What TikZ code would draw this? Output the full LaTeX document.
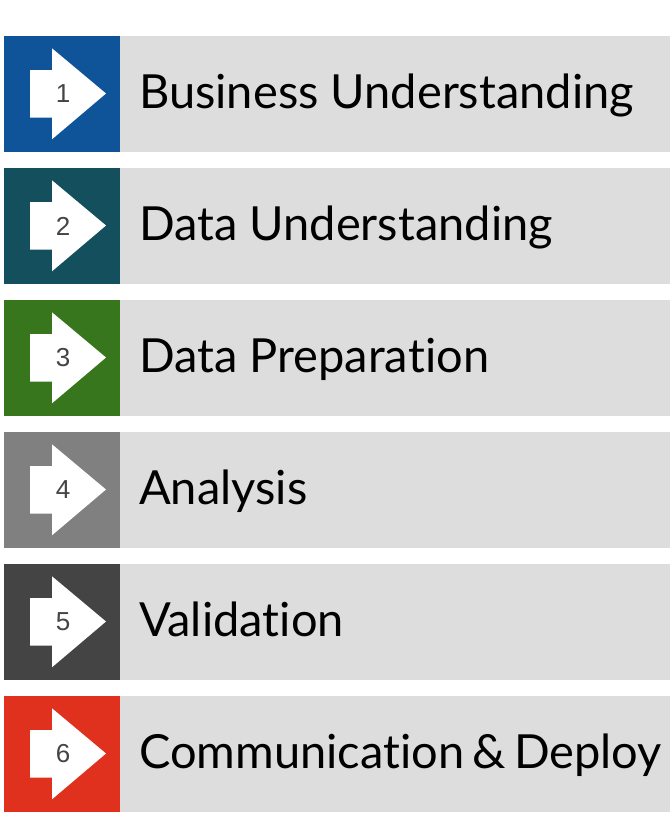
\documentclass[tikz,border=0pt]{standalone}
\usepackage{fontspec}
\setmainfont[RawFeature={-liga;-clig;-calt;-dlig}]{Lato}
\newfontfamily\numfont{Liberation Sans}
\definecolor{c1}{HTML}{0F5499}
\definecolor{c2}{HTML}{134F5C}
\definecolor{c3}{HTML}{38761D}
\definecolor{c4}{HTML}{808080}
\definecolor{c5}{HTML}{444444}
\definecolor{c6}{HTML}{E0301E}
\definecolor{barbg}{HTML}{DDDDDD}
\definecolor{numcol}{HTML}{444444}
\tikzset{
  bar/.style={fill=barbg, draw=none},
  arrowshape/.style={fill=white, draw=none},
  numtext/.style={font=\numfont\fontsize{26}{26}\selectfont, text=numcol, inner sep=0pt},
  labeltext/.style={font=\fontsize{47}{47}\selectfont, text=black, inner sep=0pt, anchor=base west}
}
\begin{document}
\begin{tikzpicture}[x=1pt,y=-1pt]
\useasboundingbox (0,0) rectangle (670,838);
\foreach \i/\col/\lab in {1/c1/Business Understanding,2/c2/Data Understanding,3/c3/Data Prepara\kern0pt tion,4/c4/Analysis,5/c5/Valida\kern0pt tion,6/c6/{Communica\kern0pt tion\hspace{-4pt} \&\hspace{-4pt} Deploy}}{
  \pgfmathsetmacro{\t}{36+132*(\i-1)}
  \fill[bar] (120,\t) rectangle (670,\t+116);
  \fill[\col] (4,\t) rectangle (120,\t+116);
  \fill[arrowshape] (30,\t+34) -- (52,\t+34) -- (52,\t+12.3) -- (106,\t+57.5) -- (52,\t+103.3) -- (52,\t+81.7) -- (30,\t+81.7) -- cycle;
  \node[numtext] (n\i) at (63,\t+58) {\i};
  \node[labeltext] (l\i) at (139,\t+72) {\lab};
}
\end{tikzpicture}
\end{document}
